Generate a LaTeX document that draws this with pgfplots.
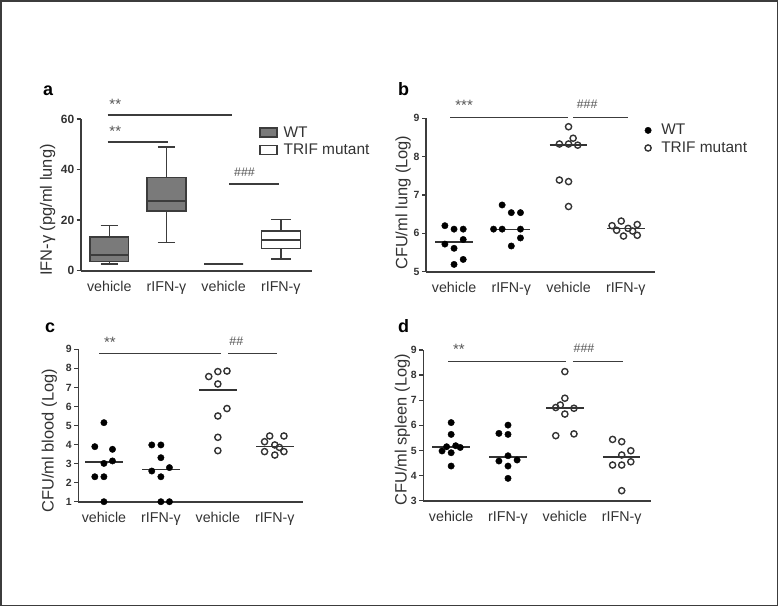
\documentclass[border=0pt]{standalone}
\usepackage{pgfplots}
\pgfplotsset{compat=1.18}
\usepgfplotslibrary{statistics}
\usepackage{fontspec}
\setmainfont{Liberation Sans}
\definecolor{ax}{HTML}{3C3C3C}
\definecolor{txt}{HTML}{333333}
\definecolor{sig}{HTML}{555555}
\definecolor{wtbox}{HTML}{7A7A7A}

\tikzset{sigt/.style={font=\fontsize{12.5}{12.5}\selectfont, text=sig, anchor=west, inner sep=0pt},
 sigs/.style={font=\fontsize{15}{15}\selectfont, text=sig, anchor=west, inner sep=0pt}}
\pgfplotsset{
 gp/.style={
  scale only axis,
  axis x line*=bottom, axis y line*=left,
  axis line style={ax, line width=1.6bp},
  every tick/.style={ax, line width=1.3bp},
  tick align=outside,
  major tick length=4bp,
  xtick={0,1,2,3},
  xticklabels={vehicle, rIFN-γ, vehicle, rIFN-γ},
  x tick style={draw=none},
  xticklabel style={font=\fontsize{14.3}{14.3}\selectfont, text=txt, yshift=-3bp},
  yticklabel style={font=\bfseries\fontsize{10.5}{11}\selectfont, text=txt, xshift=1bp},
  /pgf/number format/assume math mode=true,
  clip=false,
  boxplot/draw direction=y,
 },
 ylab/.style 2 args={every axis y label/.style={at={(axis description cs:0,#2)}, xshift=#1, rotate=90, anchor=center, font=\fontsize{16.5}{16.5}\selectfont, text=txt}},
 wt/.style={only marks, mark=*, mark size=3.2bp, color=black, forget plot},
 trif/.style={only marks, mark=o, mark size=3.1bp, mark options={draw=txt, fill=white, line width=1.4bp}, forget plot},
 med/.style={no marks, color=txt, line width=1.6bp, forget plot},
 sigl/.style={no marks, color=ax, line width=1.6bp, forget plot},
}

\begin{document}
\begin{tikzpicture}
\path[use as bounding box] (0,0) rectangle (778bp,-606bp);
\draw[line width=1.5bp, color=ax] (0.75bp,-0.75bp) rectangle (777.25bp,-605.25bp);

% panel labels
\node[font=\bfseries\fontsize{18}{18}\selectfont, anchor=base west, inner sep=0pt] at (43bp,-95bp) {a};
\node[font=\bfseries\fontsize{18}{18}\selectfont, anchor=base west, inner sep=0pt] at (398bp,-95bp) {b};
\node[font=\bfseries\fontsize{18}{18}\selectfont, anchor=base west, inner sep=0pt] at (45bp,-332bp) {c};
\node[font=\bfseries\fontsize{18}{18}\selectfont, anchor=base west, inner sep=0pt] at (398bp,-332bp) {d};

% ---------------- panel a ----------------
\begin{axis}[gp, at={(80.7bp,-270.7bp)}, anchor=south west,
  width=231bp, height=151.7bp,
  xmin=-0.5, xmax=3.54, ymin=0, ymax=60, ytick={0,20,40,60},
  yticklabel style={font=\bfseries\fontsize{12}{12}\selectfont},
  ylab={-33bp}{0.40},
  ylabel={IFN-γ (pg/ml lung)},
  legend style={at={(axis description cs:0.772,0.965)}, anchor=north west, draw=none, fill=none,
    font=\fontsize{15.5}{16}\selectfont, text=txt, row sep=1.5bp, inner sep=0pt},
  legend cell align=left,
]
\addplot[boxplot prepared={lower whisker=2.6, lower quartile=3.6, median=6.2, upper quartile=13.4, upper whisker=17.8, draw position=0, box extend=0.68, whisker extend=0.3}, draw=ax, fill=wtbox, line width=1.5bp, solid, forget plot] coordinates {};
\addplot[boxplot prepared={lower whisker=11.2, lower quartile=23.6, median=27.5, upper quartile=36.9, upper whisker=49, draw position=1, box extend=0.68, whisker extend=0.3}, draw=ax, fill=wtbox, line width=1.5bp, solid, forget plot] coordinates {};
\addplot[boxplot prepared={lower whisker=2.6, lower quartile=2.6, median=2.6, upper quartile=2.6, upper whisker=2.6, draw position=2, box extend=0.68, whisker extend=0.3}, draw=ax, fill=white, line width=1.5bp, solid, forget plot] coordinates {};
\addplot[boxplot prepared={lower whisker=4.6, lower quartile=8.8, median=12.1, upper quartile=15.7, upper whisker=20.3, draw position=3, box extend=0.68, whisker extend=0.34}, draw=ax, fill=white, line width=1.5bp, solid, forget plot] coordinates {};
\addplot[sigl] coordinates {(-0.03,61.5) (2.14,61.5)};
\addplot[sigl] coordinates {(-0.03,51) (1.03,51)};
\addplot[sigl] coordinates {(2.1,34.3) (2.97,34.3)};
\node[sigs] at (axis cs:0,65.8) {**};
\node[sigs] at (axis cs:0,55.3) {**};
\node[sigt] at (axis cs:2.18,38.8) {\#\#\#};
\addlegendimage{legend image code/.code={\draw[draw=ax, fill=wtbox, line width=1.4bp] (0bp,-4.5bp) rectangle (17bp,4.5bp);}}
\addlegendentry{\hspace{4bp}WT}
\addlegendimage{legend image code/.code={\draw[draw=ax, fill=white, line width=1.4bp] (0bp,-4.5bp) rectangle (17bp,4.5bp);}}
\addlegendentry{\hspace{4bp}TRIF mutant}
\end{axis}

% ---------------- panel b ----------------
\begin{axis}[gp, at={(426bp,-271.7bp)}, anchor=south west,
  width=229bp, height=153.4bp,
  xmin=-0.49, xmax=3.51, ymin=5, ymax=9, ytick={5,6,7,8,9},
  ylab={-23bp}{0.45},
  ylabel={CFU/ml lung (Log)},
  legend style={at={(axis description cs:0.955,0.975)}, anchor=north west, draw=none, fill=none,
    font=\fontsize{15.5}{16}\selectfont, text=txt, row sep=1.5bp, inner sep=0pt},
  legend cell align=left,
]
\addplot[wt] coordinates {(-0.16,6.20) (0,6.11) (0.16,6.11) (-0.16,5.72) (0.16,5.84) (0,5.61) (0.16,5.32) (0,5.19)};
\addplot[wt] coordinates {(0.84,6.74) (1,6.54) (1.16,6.54) (0.69,6.11) (0.84,6.11) (1.16,6.11) (1.16,5.88) (1,5.67)};
\addplot[trif] coordinates {(2,8.78) (2.08,8.48) (1.84,8.33) (2,8.33) (2.16,8.30) (1.84,7.39) (2,7.35) (2,6.70)};
\addplot[trif] coordinates {(2.92,6.32) (2.76,6.20) (3.2,6.23) (2.84,6.08) (3.04,6.13) (3.12,6.06) (2.96,5.93) (3.2,5.95)};
\addplot[med] coordinates {(-0.33,5.77) (0.33,5.77)};
\addplot[med] coordinates {(0.67,6.1) (1.33,6.1)};
\addplot[med] coordinates {(1.67,8.3) (2.33,8.3)};
\addplot[med] coordinates {(2.67,6.13) (3.33,6.13)};
\addplot[sigl] coordinates {(-0.07,9.02) (1.99,9.02)};
\addplot[sigl] coordinates {(2.08,9.02) (3.04,9.02)};
\node[sigs] at (axis cs:0.02,9.33) {***};
\node[sigt] at (axis cs:2.14,9.37) {\#\#\#};
\addlegendimage{only marks, mark=*, mark size=3.2bp, color=black}
\addlegendentry{\hspace{8bp}WT}
\addlegendimage{only marks, mark=o, mark size=3.1bp, mark options={draw=txt, fill=white, line width=1.4bp}}
\addlegendentry{\hspace{8bp}TRIF mutant}
\end{axis}

% ---------------- panel c ----------------
\begin{axis}[gp, at={(78.3bp,-501.7bp)}, anchor=south west,
  width=225bp, height=152.4bp,
  xmin=-0.45, xmax=3.5, ymin=1, ymax=9, ytick={1,2,...,9},
  ylab={-29bp}{0.40},
  ylabel={CFU/ml blood (Log)},
]
\addplot[wt] coordinates {(0,5.15) (-0.16,3.89) (0.15,3.75) (0,3.01) (0.15,3.14) (-0.16,2.31) (0,2.31) (0,1.0)};
\addplot[wt] coordinates {(0.84,3.98) (1,3.98) (1,3.31) (0.84,2.61) (1.15,2.79) (1,2.31) (1,1.0) (1.15,1.0)};
\addplot[trif] coordinates {(1.84,7.57) (2,7.83) (2.16,7.86) (2,7.18) (2.16,5.89) (2,5.5) (2,4.38) (2,3.68)};
\addplot[trif] coordinates {(2.91,4.45) (3.16,4.45) (2.82,4.15) (3.08,3.85) (3,3.98) (2.82,3.63) (3,3.45) (3.16,3.63)};
\addplot[med] coordinates {(-0.33,3.08) (0.33,3.08)};
\addplot[med] coordinates {(0.67,2.7) (1.33,2.7)};
\addplot[med] coordinates {(1.67,6.87) (2.33,6.87)};
\addplot[med] coordinates {(2.67,3.89) (3.33,3.89)};
\addplot[sigl] coordinates {(-0.08,8.79) (2.06,8.79)};
\addplot[sigl] coordinates {(2.18,8.79) (3.04,8.79)};
\node[sigs] at (axis cs:0.0,9.35) {**};
\node[sigt] at (axis cs:2.2,9.4) {\#\#};
\end{axis}

% ---------------- panel d ----------------
\begin{axis}[gp, at={(423.3bp,-500.7bp)}, anchor=south west,
  width=227.4bp, height=150.7bp,
  xmin=-0.49, xmax=3.51, ymin=3, ymax=9, ytick={3,4,...,9},
  ylab={-21bp}{0.47},
  ylabel={CFU/ml spleen (Log)},
]
\addplot[wt] coordinates {(0,6.11) (0,5.64) (-0.16,4.98) (0,4.91) (0.08,5.19) (0.16,5.12) (-0.08,5.15) (0,4.38)};
\addplot[wt] coordinates {(1,6.01) (0.84,5.68) (1,5.64) (1,4.79) (0.84,4.58) (1.16,4.62) (1,4.38) (1,3.89)};
\addplot[trif] coordinates {(2,8.14) (2,7.08) (1.84,6.71) (1.92,6.81) (2.16,6.68) (2,6.45) (1.84,5.59) (2.16,5.66)};
\addplot[trif] coordinates {(2.84,5.44) (3,5.35) (3,4.82) (3.16,4.99) (2.84,4.42) (3,4.42) (3.16,4.55) (3,3.4)};
\addplot[med] coordinates {(-0.33,5.14) (0.33,5.14)};
\addplot[med] coordinates {(0.67,4.75) (1.33,4.75)};
\addplot[med] coordinates {(1.67,6.68) (2.33,6.68)};
\addplot[med] coordinates {(2.67,4.73) (3.33,4.73)};
\addplot[sigl] coordinates {(-0.05,8.54) (2.02,8.54)};
\addplot[sigl] coordinates {(2.14,8.54) (3.03,8.54)};
\node[sigs] at (axis cs:0.03,9.03) {**};
\node[sigt] at (axis cs:2.15,9.07) {\#\#\#};
\end{axis}
\end{tikzpicture}
\end{document}
